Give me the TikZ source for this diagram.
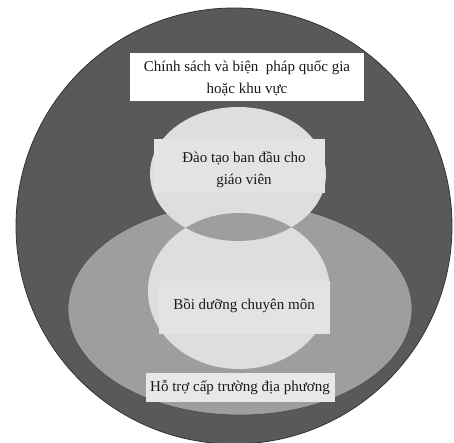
\documentclass[tikz,border=0pt]{standalone}
\usepackage{fontspec}
\setmainfont{Liberation Serif}
\begin{document}
\begin{tikzpicture}[x=1pt,y=-1pt,
  lbl/.style={inner sep=0pt, align=center, font=\fontsize{15}{22}\selectfont, text=black!90}]
\useasboundingbox (0,0) rectangle (454,443);
\fill[white] (0,0) rectangle (454,443);
% outer circle
\draw[fill=black!65, draw=black!80, line width=0.8pt] (234,226) circle[radius=218];
% lower ellipse
\draw[fill=black!38, draw=black!70, line width=0.6pt] (240,309) ellipse[x radius=172, y radius=106];
% light circles
\fill[black!13] (238,174) ellipse[x radius=88, y radius=67];
\fill[black!13] (239,291) ellipse[x radius=91, y radius=78];
% lens
\begin{scope}
  \clip (238,174) ellipse[x radius=88, y radius=67];
  \fill[black!38] (239,291) ellipse[x radius=91, y radius=78];
\end{scope}
% boxes
\fill[white] (130,53) rectangle (364,101);
\node[lbl] (t1) at (247,78) {Chính sách và biện\ \ pháp quốc gia\\hoặc khu vực};
\fill[black!11] (154,139) rectangle (325,193);
\node[lbl] (t2) at (244,170) {Đào tạo ban đầu cho\\giáo viên};
\fill[black!11] (159,281) rectangle (330,334);
\node[lbl] (t3) at (244,306) {Bồi dưỡng chuyên môn};
\fill[black!9] (146,373) rectangle (335,402);
\node[lbl] (t4) at (240,388) {Hỗ trợ cấp trường địa phương};
\end{tikzpicture}
\end{document}
